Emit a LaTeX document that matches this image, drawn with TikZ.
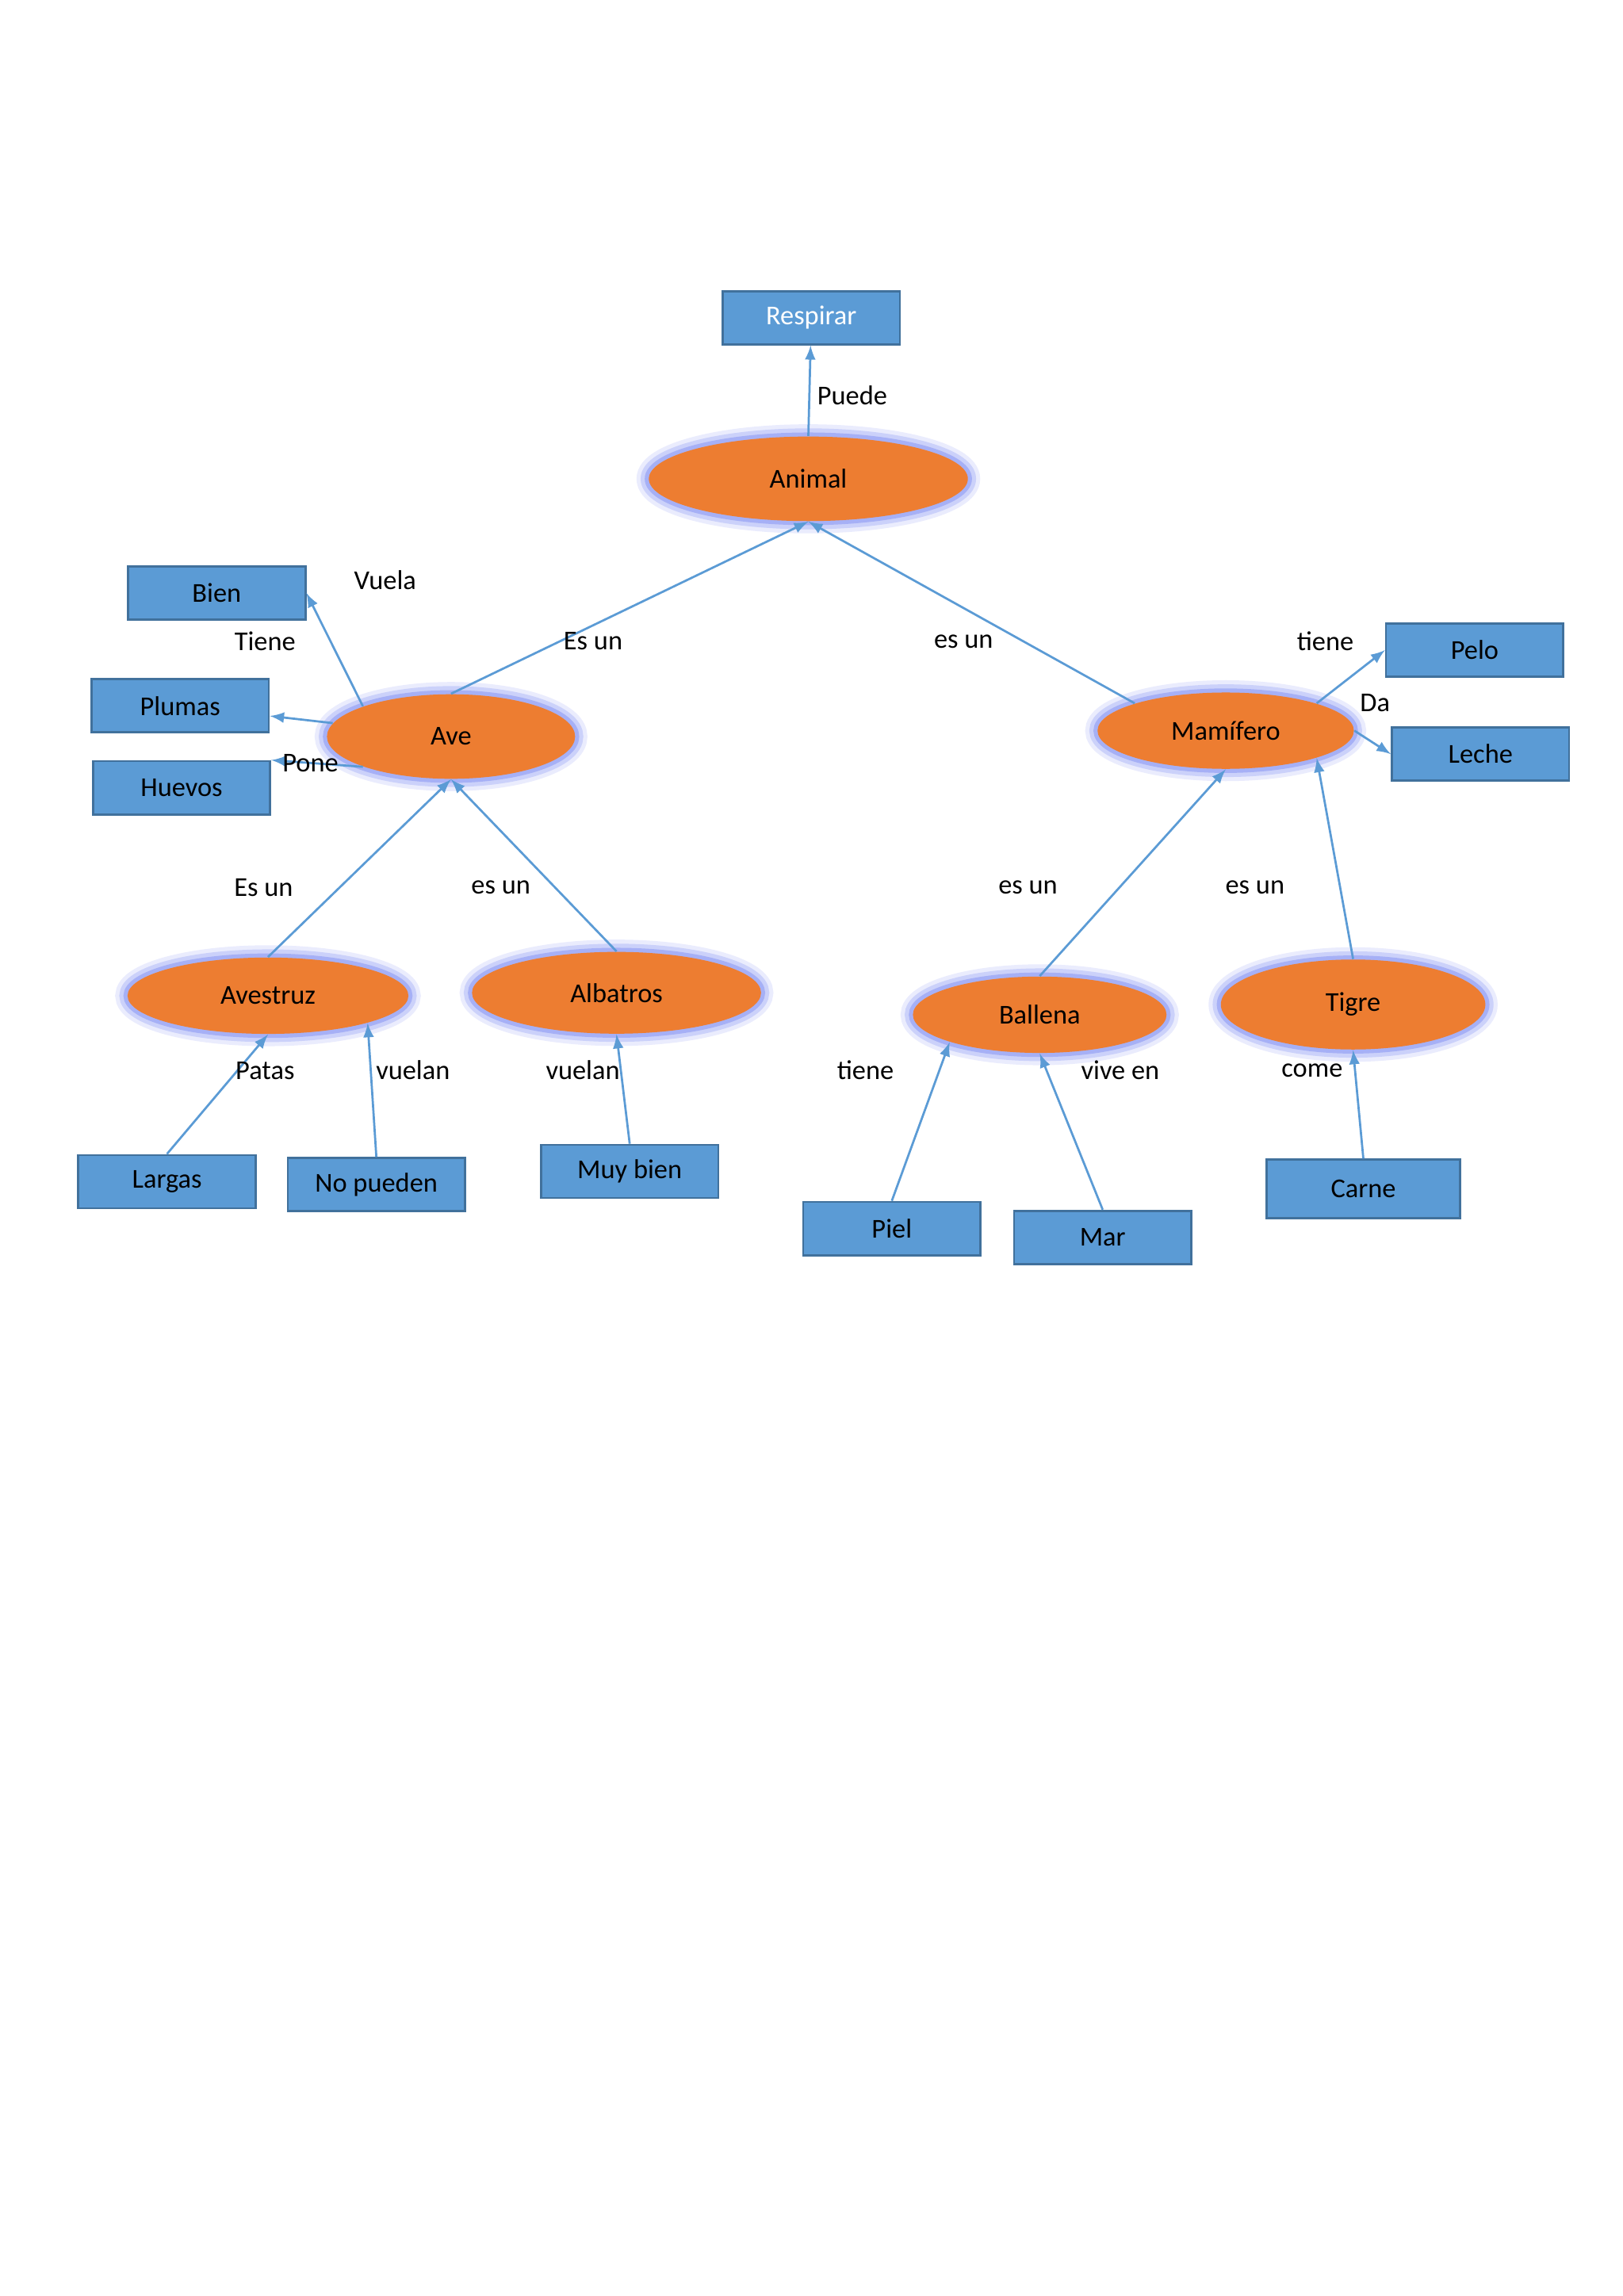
\documentclass[tikz,border=0pt]{standalone}
\usepackage{fontspec}
\setmainfont{Carlito}
\usetikzlibrary{shapes.geometric,arrows,positioning}
\definecolor{orng}{HTML}{ED7D31}
\definecolor{bx}{HTML}{5B9BD5}
\definecolor{bxline}{HTML}{41719C}
\definecolor{glw}{HTML}{6F7FF0}
\begin{document}
\begin{tikzpicture}[x=0.537pt,y=-0.537pt,
        box/.style={
            rectangle, draw=bxline, fill=bx, thick,
            minimum width=65pt, minimum height=19.5pt,
            inner sep=2pt, text=black, font=\fontsize{10}{12}\selectfont
        },
        blob/.style={
            ellipse, fill=orng, text=black, inner sep=0pt,
            font=\fontsize{10}{12}\selectfont,
            preaction={draw=glw, line width=9pt, opacity=0.15},
            preaction={draw=glw, line width=6pt, opacity=0.25},
            preaction={draw=glw, line width=3pt, opacity=0.4}
        },
        lbl/.style={font=\fontsize{10}{12}\selectfont, inner sep=1pt},
        link/.style={draw=bx, thick, -latex}
      ]
  \useasboundingbox (0,0) rectangle (1108,1568);

  \node (respirar) [box,text=white] at (554,217) {Respirar};
  \node (animal) [blob,minimum width=117pt,minimum height=31pt] at (552,327) {Animal};
  \node (ave) [blob,minimum width=91pt,minimum height=31pt] at (308,503) {Ave};
  \node (mamifero) [blob,minimum width=94pt,minimum height=28pt] at (837,499) {Mamífero};
  \node (avestruz) [blob,minimum width=103pt,minimum height=28pt] at (183,680) {Avestruz};
  \node (albatros) [blob,minimum width=106pt,minimum height=30pt] at (421,678) {Albatros};
  \node (ballena) [blob,minimum width=93pt,minimum height=28pt] at (710,693) {Ballena};
  \node (tigre) [blob,minimum width=97pt,minimum height=33pt] at (924,686) {Tigre};

  \node (bien) [box] at (148,405) {Bien};
  \node (plumas) [box] at (123,482) {Plumas};
  \node (huevos) [box] at (124,538) {Huevos};
  \node (pelo) [box] at (1007,444) {Pelo};
  \node (leche) [box] at (1011,515) {Leche};
  \node (largas) [box] at (114,807) {Largas};
  \node (nopueden) [box] at (257,809) {No pueden};
  \node (muybien) [box] at (430,800) {Muy bien};
  \node (piel) [box] at (609,839) {Piel};
  \node (mar) [box] at (753,845) {Mar};
  \node (carne) [box,minimum width=71pt,minimum height=21.5pt] at (931,812) {Carne};

  \draw [link] (animal.north) -- (respirar);
  \draw [link] (ave.north) -- (animal.south);
  \draw [link] (mamifero.north west) -- (animal.south);
  \draw [link] (ave.north west) -- (bien.east);
  \draw [link] (ave) -- (plumas);
  \draw [link] (ave.south west) -- (huevos.north east);
  \draw [link] (mamifero.north east) -- (pelo.west);
  \draw [link] (mamifero.east) -- (leche.west);
  \draw [link] (avestruz.north) -- (ave.south);
  \draw [link] (albatros.north) -- (ave.south);
  \draw [link] (ballena.north) -- (mamifero.south);
  \draw [link] (tigre.north) -- (mamifero.south east);
  \draw [link] (largas.north) -- (avestruz.south);
  \draw [link] (nopueden.north) -- (avestruz.south east);
  \draw [link] (muybien.north) -- (albatros.south);
  \draw [link] (piel.north) -- (ballena.south west);
  \draw [link] (mar.north) -- (ballena.south);
  \draw [link] (carne.north) -- (tigre.south);

  \node (l1) [lbl] at (582,270) {Puede};
  \node (l2) [lbl] at (263,396) {Vuela};
  \node (l3) [lbl] at (181,438) {Tiene};
  \node (l4) [lbl] at (405,438) {Es un};
  \node (l5) [lbl] at (658,438) {es un};
  \node (l6) [lbl] at (905,438) {tiene};
  \node (l7) [lbl] at (939,480) {Da};
  \node (l8) [lbl] at (212,521) {Pone};
  \node (l9) [lbl] at (180,606) {Es un};
  \node (l10) [lbl] at (342,606) {es un};
  \node (l11) [lbl] at (702,606) {es un};
  \node (l12) [lbl] at (857,606) {es un};
  \node (l13) [lbl] at (181,731) {Patas};
  \node (l14) [lbl] at (282,731) {vuelan};
  \node (l15) [lbl] at (398,731) {vuelan};
  \node (l16) [lbl] at (591,731) {tiene};
  \node (l17) [lbl] at (765,731) {vive en};
  \node (l18) [lbl] at (896,731) {come};
\end{tikzpicture}
\end{document}
